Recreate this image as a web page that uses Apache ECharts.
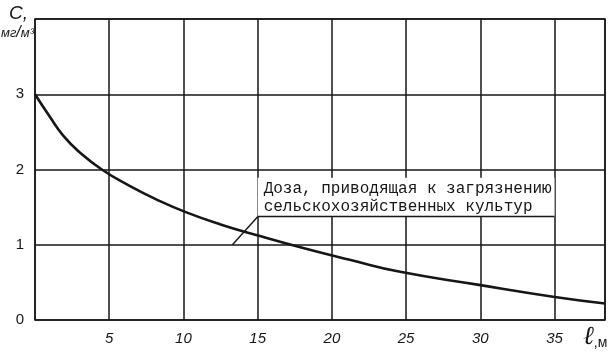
<!DOCTYPE html>
<html>
<head>
<meta charset="utf-8">
<script src="https://cdn.jsdelivr.net/npm/echarts@6/dist/echarts.min.js"></script>
<style>html,body{margin:0;padding:0;background:#fff}#c{width:612px;height:356px}</style>
</head>
<body>
<div id="c"></div>
<script>
// distance l, m
const distance = [0, 1.0, 1.9, 3.0, 4.5, 6.4, 8.2, 10.2, 12.5, 14.9, 18.0, 21.2, 24.6, 29.8, 34.9, 38.4];
// concentration C, mg/m3
const concentration = [3.0, 2.7, 2.45, 2.23, 2.0, 1.78, 1.6, 1.43, 1.27, 1.13, 0.96, 0.8, 0.64, 0.47, 0.31, 0.22];
const xTicks = [5, 10, 15, 20, 25, 30, 35];
const yTicks = [0, 1, 2, 3];
const noteText = 'Доза, приводящая к загрязнению\nсельскохозяйственных культур';
const noteBox = [[15, 1.373], [35, 1.89]];
const noteLeader = [[15, 1.373], [13.3, 1.0]];

const chart = echarts.init(document.getElementById('c'), null, {renderer: 'canvas'});
const ink = '#161616';
chart.setOption({
  animation: false,
  backgroundColor: '#fff',
  grid: {left: 35, right: 7, top: 19, bottom: 36, show: true, borderColor: ink, borderWidth: 1.5,
         backgroundColor: 'transparent', containLabel: false, outerBoundsMode: 'none'},
  xAxis: {
    type: 'value', min: 0, max: 38.4, interval: 5,
    axisLine: {show: false}, axisTick: {show: false},
    splitLine: {show: true, lineStyle: {color: ink, width: 1.5}},
    axisLabel: {
      margin: 11, color: ink, fontFamily: 'Liberation Sans', fontSize: 15, fontStyle: 'italic',
      showMaxLabel: false,
      formatter: v => xTicks.includes(v) ? String(v) : ''
    },
    name: '{l|ℓ}{m|,м}', nameLocation: 'end', nameGap: -22,
    nameTextStyle: {
      verticalAlign: 'top', padding: [4, 0, 0, 0],
      rich: {
        l: {fontFamily: 'DejaVu Serif', fontStyle: 'italic', fontSize: 26, color: ink},
        m: {fontFamily: 'Liberation Sans', fontSize: 14, color: ink, verticalAlign: 'bottom'}
      }
    }
  },
  yAxis: {
    type: 'value', min: 0, max: 4, interval: 1,
    axisLine: {show: false}, axisTick: {show: false},
    splitLine: {show: true, lineStyle: {color: ink, width: 1.5}},
    axisLabel: {
      margin: 11, color: ink, fontFamily: 'Liberation Sans', fontSize: 15,
      formatter: v => yTicks.includes(v) ? String(v) : ''
    },
    name: '{c|C,}\n{u|мг}{s|/}{u|м³}', nameLocation: 'end', nameGap: 16,
    nameTextStyle: {
      align: 'right', verticalAlign: 'top', padding: [0, 1, 0, 0],
      rich: {
        c: {fontFamily: 'Liberation Sans', fontStyle: 'italic', fontSize: 19, color: ink, lineHeight: 22, padding: [0, 6, 0, 0]},
        u: {fontFamily: 'Liberation Sans', fontStyle: 'italic', fontSize: 13, color: ink, lineHeight: 16},
        s: {fontFamily: 'Liberation Sans', fontStyle: 'italic', fontSize: 16, color: ink, lineHeight: 16}
      }
    }
  },
  series: [{
    type: 'line',
    data: distance.map((x, i) => [x, concentration[i]]),
    smooth: true,
    showSymbol: false,
    lineStyle: {color: ink, width: 2.6},
    z: 5,
    markArea: {
      silent: true,
      itemStyle: {color: '#fff'},
      label: {
        show: true, position: 'insideLeft', offset: [1, 1],
        color: ink, fontFamily: 'Liberation Mono', fontSize: 16, lineHeight: 18
      },
      data: [[{xAxis: noteBox[0][0], yAxis: noteBox[0][1], name: noteText}, {xAxis: noteBox[1][0], yAxis: noteBox[1][1]}]]
    },
    markLine: {
      silent: true, symbol: 'none',
      label: {show: false},
      lineStyle: {color: ink, width: 1.4, type: 'solid'},
      data: [
        [{coord: noteLeader[0]}, {coord: noteLeader[1]}],
        [{coord: noteBox[0]}, {coord: [noteBox[1][0], noteBox[0][1]]}]
      ]
    }
  }]
});
</script>
</body>
</html>
